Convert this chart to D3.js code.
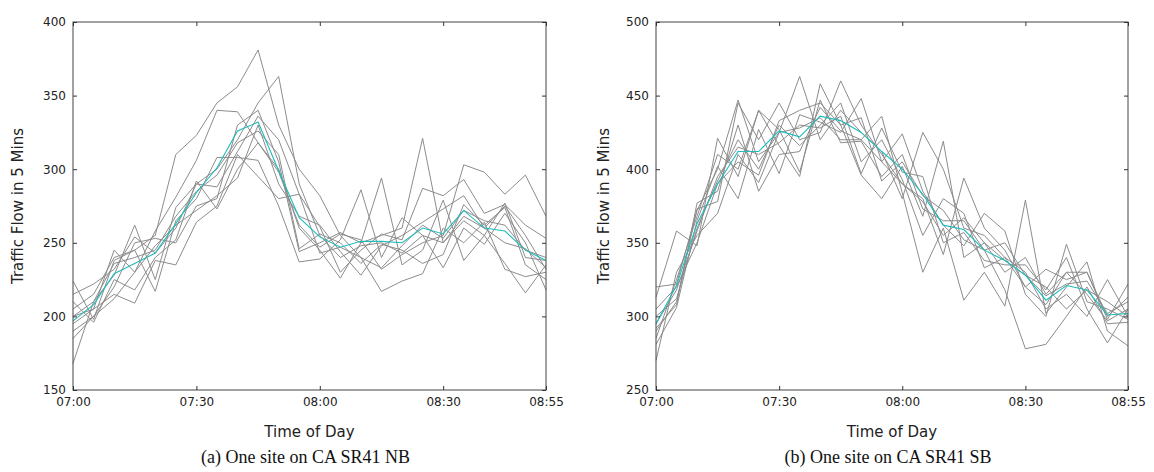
<!DOCTYPE html>
<html><head><meta charset="utf-8">
<script src="https://cdn.jsdelivr.net/npm/d3@7"></script>
<style>body{margin:0;background:#fff}</style>
</head><body>
<svg id="chart" width="1154" height="472"></svg>
<script>
const timeLabels = ["07:00","07:30","08:00","08:30","08:55"];
const timeTickIdx = [0,6,12,18,23];
const nPoints = 24;

const yTicksA = [150,200,250,300,350,400];
const yTicksB = [250,300,350,400,450,500];

const meanA = [197,208,229,236,243,263,284,301,326,332,299,267,254,247,251,251,250,260,256,272,260,258,245,238];
const daysA = [
 [205,215,240,245,255,310,323,345,356,381,330,300,282,255,240,233,248,262,253,272,265,262,245,240],
 [215,222,232,254,243,260,290,300,320,345,363,290,255,240,248,250,243,255,250,268,260,275,255,232],
 [200,205,245,230,258,281,306,340,339,318,298,262,247,256,252,232,242,250,255,303,298,283,296,268],
 [168,210,228,262,225,274,290,288,312,336,320,283,261,230,245,256,252,287,282,293,270,276,262,253],
 [190,200,220,250,253,250,275,280,330,340,305,244,250,257,250,255,260,321,250,265,255,277,240,238],
 [224,198,238,245,217,265,280,308,308,306,275,237,239,252,286,240,267,255,233,260,249,270,250,218],
 [210,196,225,218,240,252,292,273,300,318,300,260,245,226,250,294,235,245,279,238,255,236,216,235],
 [195,205,215,209,238,235,264,275,310,295,280,283,243,247,240,217,224,229,260,250,264,232,227,230],
 [185,200,212,230,248,262,272,282,294,330,290,268,262,244,228,248,255,264,273,282,260,250,246,233],
 [200,210,236,240,245,268,285,296,318,326,310,246,256,250,236,249,245,236,242,276,262,274,235,225]
];

const meanB = [295,321,363,390,412,412,426,422,436,433,425,412,400,383,362,359,345,338,328,311,321,318,301,302];
const daysB = [
 [320,322,372,400,447,405,425,463,420,440,425,412,380,425,400,360,355,340,320,308,330,315,297,305],
 [313,358,348,421,395,440,416,395,458,430,396,380,402,368,419,340,350,330,340,315,330,330,298,322],
 [290,310,373,378,445,420,445,420,425,460,430,410,390,380,342,394,360,345,320,332,325,330,300,313],
 [281,306,365,402,380,427,397,437,432,425,448,405,424,385,362,348,370,358,315,300,349,310,305,298],
 [270,330,355,370,410,391,425,428,435,420,420,436,384,330,360,311,330,307,379,302,320,337,290,280],
 [300,312,360,392,420,400,430,416,430,445,405,420,393,355,380,370,333,340,330,305,315,300,325,300],
 [285,325,368,410,400,440,427,398,447,418,419,395,410,373,365,365,345,318,278,281,300,320,295,296],
 [295,318,358,395,415,410,418,430,428,436,397,428,398,395,350,357,338,335,335,318,340,305,282,305],
 [305,320,350,390,405,396,433,440,445,430,435,392,405,382,372,352,345,350,328,320,305,318,310,300],
 [292,308,377,385,430,385,410,412,442,426,420,405,390,378,355,367,350,338,328,314,322,324,302,310]
];

const yLabel = "Traffic Flow in 5 Mins";
const xLabel = "Time of Day";
const captions = ["(a) One site on CA SR41 NB", "(b) One site on CA SR41 SB"];

const svg = d3.select("#chart");
const panels = [
  {left:73, right:546, yTicks:yTicksA, days:daysA, mean:meanA, caption:captions[0], ylabX:18},
  {left:656, right:1128, yTicks:yTicksB, days:daysB, mean:meanB, caption:captions[1], ylabX:604}
];
const plotTop = 22, plotBottom = 390;
const tickFont = "'DejaVu Sans', sans-serif";

panels.forEach(p => {
  const x = d3.scaleLinear().domain([0, nPoints-1]).range([p.left, p.right]);
  const y = d3.scaleLinear().domain([p.yTicks[0], p.yTicks[p.yTicks.length-1]]).range([plotBottom, plotTop]);
  const g = svg.append("g");
  const line = d3.line().x((d,i)=>x(i)).y(d=>y(d));

  p.days.forEach(d => {
    g.append("path").attr("d", line(d)).attr("fill","none")
     .attr("stroke","#8c8c8c").attr("stroke-width",1);
  });
  g.append("path").attr("d", line(p.mean)).attr("fill","none")
   .attr("stroke","#1fbcbc").attr("stroke-width",1.1);

  g.append("rect").attr("x",p.left).attr("y",plotTop).attr("width",p.right-p.left).attr("height",plotBottom-plotTop)
   .attr("fill","none").attr("stroke","#444").attr("stroke-width",1);

  const xAxisB = d3.axisBottom(x).tickValues(timeTickIdx).tickFormat((d,i)=>timeLabels[i]).tickSizeInner(-4).tickSizeOuter(0).tickPadding(7);
  const xAxisT = d3.axisTop(x).tickValues(timeTickIdx).tickFormat("").tickSizeInner(-4).tickSizeOuter(0);
  const yAxisL = d3.axisLeft(y).tickValues(p.yTicks).tickSizeInner(-4).tickSizeOuter(0).tickPadding(7);
  const yAxisR = d3.axisRight(y).tickValues(p.yTicks).tickFormat("").tickSizeInner(-4).tickSizeOuter(0);

  [[xAxisB,`translate(0,${plotBottom})`],[xAxisT,`translate(0,${plotTop})`],[yAxisL,`translate(${p.left},0)`],[yAxisR,`translate(${p.right},0)`]].forEach(([ax,tr])=>{
    const a = g.append("g").attr("transform",tr).call(ax);
    a.select(".domain").remove();
    a.selectAll("line").attr("stroke","#333");
    a.selectAll("text").attr("fill","#222").style("font-family",tickFont).style("font-size","12px");
  });

  g.append("text").attr("x",(p.left+p.right)/2).attr("y",437).attr("text-anchor","middle")
   .style("font-family",tickFont).style("font-size","15px").attr("fill","#222").text(xLabel);
  g.append("text").attr("transform",`translate(${p.ylabX},${(plotTop+plotBottom)/2}) rotate(-90)`)
   .attr("text-anchor","middle").attr("dy","0.35em")
   .style("font-family",tickFont).style("font-size","15px").attr("fill","#222").text(yLabel);
  g.append("text").attr("x",(p.left+p.right)/2 - 4).attr("y",463).attr("text-anchor","middle")
   .style("font-family","'Liberation Serif', 'Times New Roman', serif").style("font-size","18px").attr("fill","#111").text(p.caption);
});
</script>
</body></html>
